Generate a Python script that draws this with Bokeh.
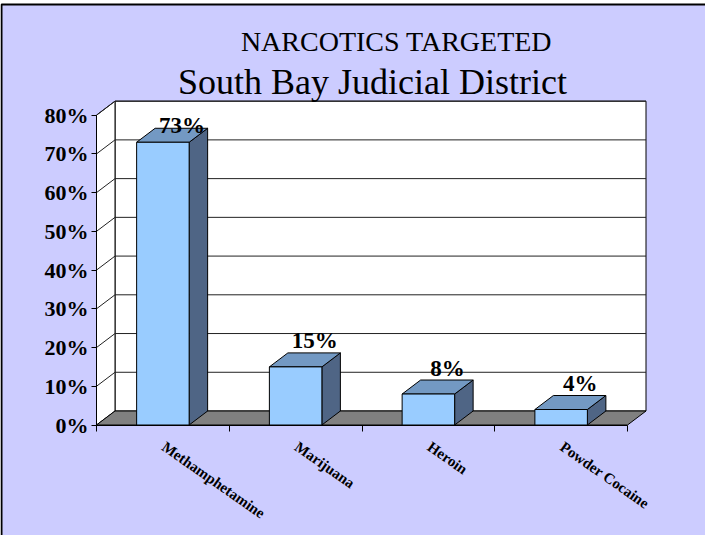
from bokeh.plotting import figure
from bokeh.models import LinearAxis, FixedTicker, NumeralTickFormatter, Range1d
from bokeh.core.properties import value
from bokeh.embed import file_html
from bokeh.resources import INLINE

# ---- data ----
categories = ["Methamphetamine", "Marijuana", "Heroin", "Powder Cocaine"]
shares = [0.73, 0.15, 0.08, 0.04]
share_labels = ["73%", "15%", "8%", "4%"]
y_ticks = [0.0, 0.1, 0.2, 0.3, 0.4, 0.5, 0.6, 0.7, 0.8]
title_lines = ["NARCOTICS TARGETED", "South Bay Judicial District"]

# ---- layout constants (pixels) ----
W, H = 705, 535
PX_X = 132.75      # pixels per category
PX_Y = 387.3       # pixels per 100%
ORIGIN_FX = 96.0   # figure x of the front axis
ORIGIN_FY = 424.5  # figure y (from top) of 0%
DEPTH_X = 18.5 / PX_X
DEPTH_Y = 14.0 / PX_Y
BAR_W = 52.5 / PX_X
YMAX = 0.8
N = len(categories)
SERIF = value("Liberation Serif")

def X(fx):
    return (fx - ORIGIN_FX) / PX_X

def Y(fy):
    return (ORIGIN_FY - fy) / PX_Y

p = figure(width=W, height=H, output_backend="svg", toolbar_location=None,
           x_axis_type=None, y_axis_type=None,
           x_range=Range1d(X(0), X(W)), y_range=Range1d(Y(H), Y(0)),
           min_border=0, min_border_left=0, min_border_right=0,
           min_border_top=0, min_border_bottom=0)
p.outline_line_color = None
p.grid.visible = False
p.background_fill_color = "white"
p.border_fill_color = "white"

LAV = "#CCCCFF"
# outer panel with black border (top/left visible)
p.quad(left=[X(1)], right=[X(W + 40)], top=[Y(4)], bottom=[Y(H + 40)],
       fill_color=LAV, line_color="black", line_width=2)

# back wall
p.quad(left=[DEPTH_X], right=[N + DEPTH_X], bottom=[DEPTH_Y], top=[YMAX + DEPTH_Y],
       fill_color="white", line_color="black", line_width=1)
# side wall
p.patch([0, DEPTH_X, DEPTH_X, 0], [0, DEPTH_Y, YMAX + DEPTH_Y, YMAX],
        fill_color="white", line_color="black", line_width=1)
# gridlines
grid_t = [t for t in y_ticks if t > 0]
p.segment(x0=[DEPTH_X] * len(grid_t), y0=[t + DEPTH_Y for t in grid_t],
          x1=[N + DEPTH_X] * len(grid_t), y1=[t + DEPTH_Y for t in grid_t],
          line_color="#222222", line_width=1)
p.segment(x0=[0] * len(grid_t), y0=grid_t,
          x1=[DEPTH_X] * len(grid_t), y1=[t + DEPTH_Y for t in grid_t],
          line_color="#222222", line_width=1)
# floor
p.patch([0, N, N + DEPTH_X, DEPTH_X], [0, 0, DEPTH_Y, DEPTH_Y],
        fill_color="#808080", line_color="black", line_width=1)

# bars
FRONT, TOP, SIDE = "#99CCFF", "#7399C3", "#4F6585"
for i, h in enumerate(shares):
    x0 = i + 0.5 - BAR_W / 2
    x1 = i + 0.5 + BAR_W / 2
    p.patch([x1, x1 + DEPTH_X, x1 + DEPTH_X, x1], [0, DEPTH_Y, h + DEPTH_Y, h],
            fill_color=SIDE, line_color="black", line_width=1)
    p.patch([x0, x1, x1 + DEPTH_X, x0 + DEPTH_X], [h, h, h + DEPTH_Y, h + DEPTH_Y],
            fill_color=TOP, line_color="black", line_width=1)
    p.quad(left=[x0], right=[x1], bottom=[0], top=[h],
           fill_color=FRONT, line_color="black", line_width=1)

# value labels
lab_x = [i + 0.5 + 0.145 for i in range(N)]
lab_y = [min(h + DEPTH_Y + 12 / PX_Y, YMAX - 0.027) for h in shares]
p.text(x=lab_x, y=lab_y, text=share_labels, text_align="center",
       text_baseline="alphabetic", text_font=SERIF,
       text_font_style="bold", text_font_size="23px", text_color="black")

# category labels (rotated)
p.text(x=[i + 0.5 + 0.04 for i in range(N)], y=[Y(438)] * N, text=categories,
       angle=-0.611, text_align="left", text_baseline="top",
       text_font=SERIF, text_font_style="bold",
       text_font_size="15px", text_color="black")

# title
p.text(x=[X(396)], y=[Y(41)], text=[title_lines[0]], text_align="center",
       text_baseline="alphabetic", text_font=SERIF,
       text_font_size="28px", text_color="black")
p.text(x=[X(372)], y=[Y(81)], text=[title_lines[1]], text_align="center",
       text_baseline="alphabetic", text_font=SERIF,
       text_font_size="36px", text_color="black")

# y axis at the front-left edge
yaxis = LinearAxis(fixed_location=0, bounds=(0, YMAX),
                   ticker=FixedTicker(ticks=y_ticks),
                   formatter=NumeralTickFormatter(format="0%"))
yaxis.axis_line_color = "black"
yaxis.major_tick_line_color = "black"
yaxis.major_tick_out = 5
yaxis.major_tick_in = 0
yaxis.minor_tick_line_color = None
yaxis.major_label_standoff = 3
yaxis.major_label_text_font = "Liberation Serif"
yaxis.major_label_text_font_style = "bold"
yaxis.major_label_text_font_size = "22px"
yaxis.major_label_text_color = "black"
p.add_layout(yaxis, "left")

# x axis (category boundaries) at the front edge
xaxis = LinearAxis(fixed_location=0, bounds=(0, N),
                   ticker=FixedTicker(ticks=list(range(N + 1))))
xaxis.axis_line_color = "black"
xaxis.major_tick_line_color = "black"
xaxis.major_tick_out = 6
xaxis.major_tick_in = 0
xaxis.minor_tick_line_color = None
xaxis.major_label_text_font_size = "0px"
xaxis.major_label_text_alpha = 0
p.add_layout(xaxis, "below")

open("out.html", "w").write(file_html(p, INLINE))
